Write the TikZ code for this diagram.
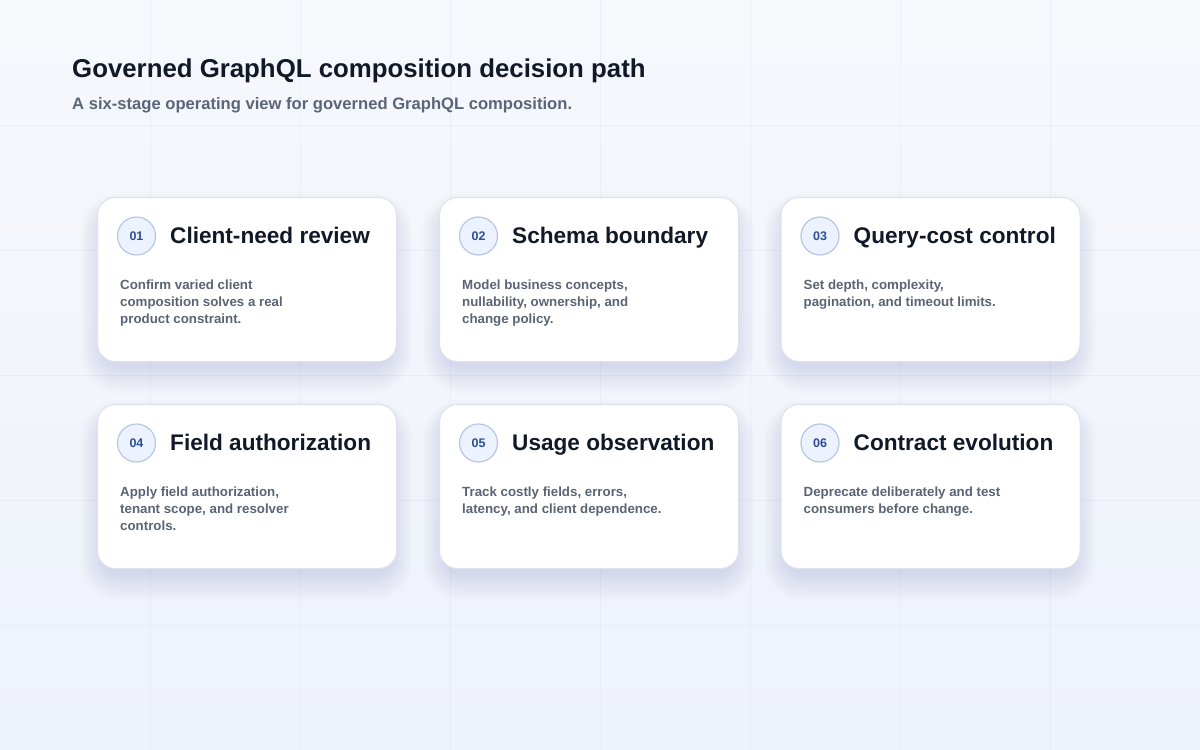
\documentclass[tikz,border=0pt]{standalone}
\usepackage{fontspec}
\setmainfont{Liberation Sans}
\definecolor{bgtop}{HTML}{F6F8FC}
\definecolor{bgbot}{HTML}{EEF2FB}
\definecolor{gridc}{HTML}{E3E8F1}
\definecolor{cardedge}{HTML}{DCE3EE}
\definecolor{titlec}{HTML}{111827}
\definecolor{subc}{HTML}{5A6577}
\definecolor{bodyc}{HTML}{5B6474}
\definecolor{circfill}{HTML}{EDF3FE}
\definecolor{circedge}{HTML}{B5C7E5}
\definecolor{numc}{HTML}{2D4E95}
\definecolor{shadowc}{HTML}{8090B8}
\tikzset{
  gridline/.style={gridc, line width=0.8pt, opacity=0.6},
  card/.style={draw=cardedge, line width=1pt, fill=white, rounded corners=18pt},
  numcirc/.style={circle, draw=circedge, line width=1.2pt, fill=circfill, minimum size=38pt, inner sep=0pt,
     text=numc, font=\fontsize{12.5}{14}\selectfont\bfseries},
  cardtitle/.style={anchor=base west, inner sep=0pt, text=titlec, font=\fontsize{22.6}{26}\selectfont\bfseries},
  cardbody/.style={anchor=base west, inner sep=0pt, text=bodyc, font=\fontsize{13.3}{17}\selectfont\bfseries},
}
\newcommand{\stagecard}[6]{% #1 name, #2 x, #3 y, #4 num, #5 title, #6 body
  \foreach \k in {1,...,14}{
    \fill[shadowc, opacity=0.014, rounded corners={18pt+1.5*\k pt}]
      ({#2+6-1.6*\k}, {#3+16-1.4*\k}) rectangle ({#2+293+1.6*\k}, {#3+164+4+2*\k});
  }
  \node[card, minimum width=299pt, minimum height=164pt, anchor=north west, inner sep=0pt] (#1) at (#2,#3) {};
  \node[numcirc] (#1n) at ({#2+39.5},{#3+39}) {#4};
  \node[cardtitle] (#1t) at ({#2+73},{#3+46.5}) {#5};
  \node[cardbody] (#1b) at ({#2+23},{#3+92.5}) {\parbox[t]{250pt}{\raggedright\fontsize{13.3}{17}\selectfont #6}};
}
\begin{document}
\begin{tikzpicture}[x=1pt, y=-1pt]
  \useasboundingbox (0,0) rectangle (1200,750);
  \shade[top color=bgtop, bottom color=bgbot] (0,0) rectangle (1200,750);
  \foreach \gx in {150,300,...,1050} \draw[gridline] (\gx,0) -- (\gx,750);
  \foreach \gy in {125,250,...,625} \draw[gridline] (0,\gy) -- (1200,\gy);
  \node[anchor=base west, inner sep=0pt, text=titlec, font=\fontsize{25.8}{30}\selectfont\bfseries] (title) at (72,77) {Governed GraphQL composition decision path};
  \node[anchor=base west, inner sep=0pt, text=subc, font=\fontsize{16.6}{19}\selectfont\bfseries] (subtitle) at (72,109.5) {A six-stage operating view for governed GraphQL composition.};
  \stagecard{c1}{97}{197}{01}{Client-need review}{Confirm varied client\\composition solves a real\\product constraint.}
  \stagecard{c2}{439}{197}{02}{Schema boundary}{Model business concepts,\\nullability, ownership, and\\change policy.}
  \stagecard{c3}{780.5}{197}{03}{Query-cost control}{Set depth, complexity,\\pagination, and timeout limits.}
  \stagecard{c4}{97}{404}{04}{Field authorization}{Apply field authorization,\\tenant scope, and resolver\\controls.}
  \stagecard{c5}{439}{404}{05}{Usage observation}{Track costly fields, errors,\\latency, and client dependence.}
  \stagecard{c6}{780.5}{404}{06}{Contract evolution}{Deprecate deliberately and test\\consumers before change.}
\end{tikzpicture}
\end{document}
